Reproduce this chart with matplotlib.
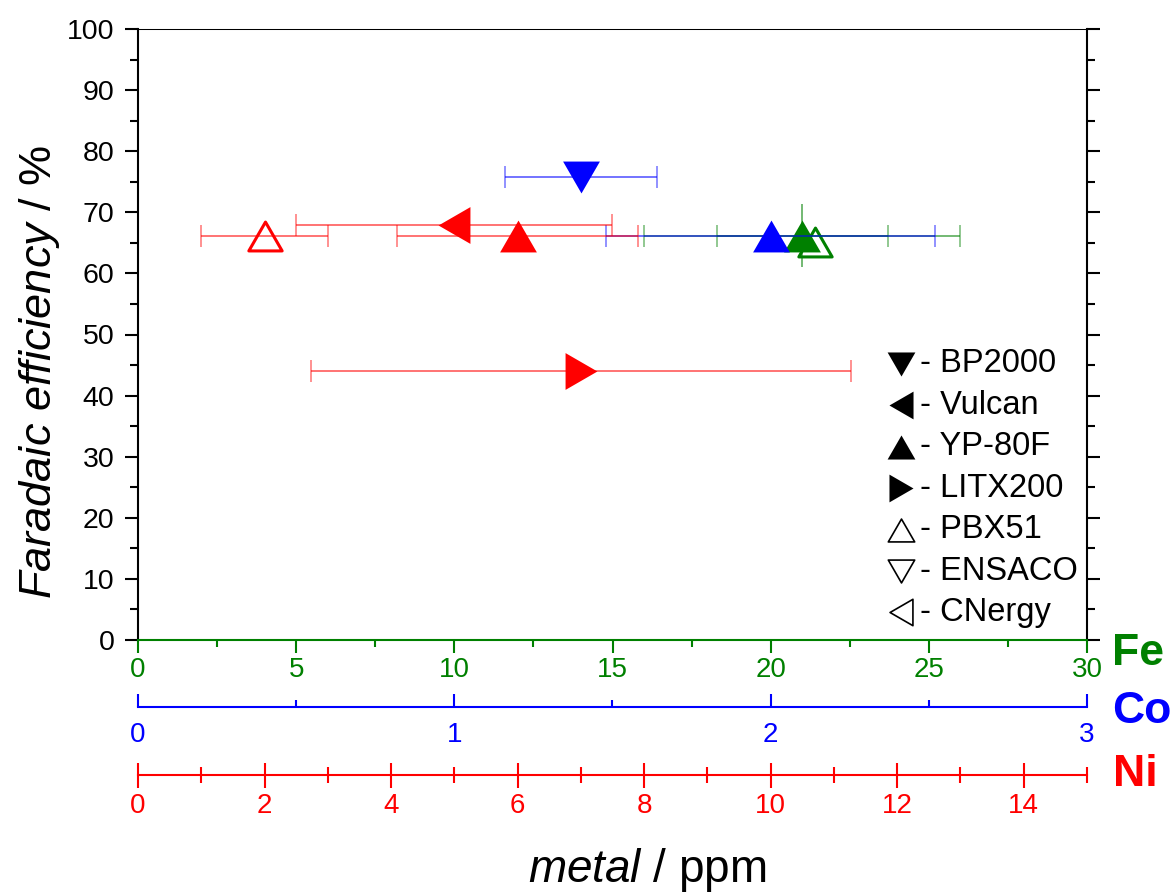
import numpy as np
import matplotlib
matplotlib.use('Agg')
import matplotlib.pyplot as plt
from matplotlib.path import Path
from matplotlib.ticker import MultipleLocator

plt.rcParams['font.family'] = 'Liberation Sans'
plt.rcParams['mathtext.fontset'] = 'custom'
plt.rcParams['mathtext.rm'] = 'Liberation Sans'
plt.rcParams['mathtext.it'] = 'Liberation Sans:italic'

GREEN = '#008000'
BLUE = '#0000ff'
RED = '#ff0000'

# carbon supports in legend order, with their marker shape
carbons = ['BP2000', 'Vulcan', 'YP-80F', 'LITX200', 'PBX51', 'ENSACO', 'CNergy']
shapes = ['down', 'left', 'up', 'right', 'up', 'down', 'left']
filled = [True, True, True, True, False, False, False]

# Fe content / ppm vs faradaic efficiency / %
fe_carbon = ['YP-80F', 'PBX51']
fe_ppm = [21.0, 21.4]
fe_fe = [66.2, 65.1]
fe_xerr = [5.0, 0.0]
fe_yerr = [5.1, 0.0]
# narrower Fe spread on the same point
fe2_ppm = [21.0]
fe2_fe = [66.2]
fe2_xerr = [2.7]

# Co content / ppm
co_carbon = ['BP2000', 'YP-80F']
co_ppm = [1.40, 2.00]
co_fe = [75.8, 66.2]
co_xerr = [0.24, 0.52]

# Ni content / ppm
ni_carbon = ['PBX51', 'Vulcan', 'YP-80F', 'LITX200']
ni_ppm = [2.0, 5.0, 6.0, 7.0]
ni_fe = [66.2, 67.9, 66.2, 44.0]
ni_xerr = [1.0, 2.5, 1.9, 4.27]


def triangle(direction):
    # equilateral triangle centred on its bounding box
    v = np.array([[0, 0.866], [-1, -0.866], [1, -0.866], [0, 0.866]])
    t = np.deg2rad({'up': 0, 'left': 90, 'down': 180, 'right': 270}[direction])
    rot = np.array([[np.cos(t), -np.sin(t)], [np.sin(t), np.cos(t)]])
    return Path(v @ rot.T, [Path.MOVETO, Path.LINETO, Path.LINETO, Path.CLOSEPOLY])


def draw_series(axis, color, carbon, x, y, xerr, yerr=None):
    if yerr is None:
        yerr = [0] * len(x)
    for xi, yi, xe, ye in zip(x, y, xerr, yerr):
        if xe > 0:
            axis.errorbar(xi, yi, xerr=xe, fmt='none', ecolor=color, alpha=0.55,
                          elinewidth=1.4, capsize=8, capthick=1.1)
        if ye > 0:
            axis.errorbar(xi, yi, yerr=ye, fmt='none', ecolor=color, alpha=0.55,
                          elinewidth=1.4, capsize=0)
    for c, xi, yi in zip(carbon, x, y):
        i = carbons.index(c)
        mk = triangle(shapes[i])
        if filled[i]:
            axis.plot(xi, yi, ls='none', marker=mk, ms=26.5, color=color, mew=0)
        else:
            axis.plot(xi, yi, ls='none', marker=mk, ms=24, mfc='none', mec=color, mew=2.2)


fig = plt.figure(figsize=(11.76, 8.94), dpi=100)
W, H = 1176, 894
ax = fig.add_axes([138 / W, 1 - 640 / H, 949 / W, 611 / H])

# Fe scale on the main axes
ax.set_xlim(0, 30)
ax.set_ylim(0, 100)
ax.xaxis.set_major_locator(MultipleLocator(5))
ax.xaxis.set_minor_locator(MultipleLocator(2.5))
ax.yaxis.set_major_locator(MultipleLocator(10))
ax.yaxis.set_minor_locator(MultipleLocator(5))
for s in ['left', 'right', 'bottom']:
    ax.spines[s].set_linewidth(1.5)
ax.spines['top'].set_linewidth(0.75)
ax.spines['bottom'].set_color(GREEN)
ax.tick_params(axis='x', which='both', colors=GREEN, direction='out', width=1.5,
               labelsize=20, pad=2.5)
ax.tick_params(axis='x', which='major', length=9.4)
ax.tick_params(axis='x', which='minor', length=5)
ax.tick_params(axis='y', which='both', left=True, right=True, direction='out',
               width=1.5, labelsize=20.5, pad=7.5)
ax.tick_params(axis='y', which='major', length=9.4)
ax.tick_params(axis='y', which='minor', length=5.5)

draw_series(ax, GREEN, fe_carbon, fe_ppm, fe_fe, fe_xerr, fe_yerr)
ax.errorbar(fe2_ppm, fe2_fe, xerr=fe2_xerr, fmt='none', ecolor=GREEN, alpha=0.55,
            elinewidth=1.4, capsize=8, capthick=1.1)

# Co and Ni scales stacked below
ax_co = ax.twiny()
ax_ni = ax.twiny()
for a, color, lim, major, minor, off in [(ax_co, BLUE, 3, 1, 0.5, 48.5),
                                         (ax_ni, RED, 15, 2, 1, 97.2)]:
    a.set_xlim(0, lim)
    a.xaxis.set_ticks_position('bottom')
    a.xaxis.set_label_position('bottom')
    a.xaxis.set_major_locator(MultipleLocator(major))
    a.xaxis.set_minor_locator(MultipleLocator(minor))
    for s in ['top', 'left', 'right']:
        a.spines[s].set_visible(False)
    a.spines['bottom'].set_visible(True)
    a.spines['bottom'].set_position(('outward', off))
    a.spines['bottom'].set_color(color)
    a.spines['bottom'].set_linewidth(1.5)

ax_co.tick_params(axis='x', which='both', colors=BLUE, direction='in', width=1.5,
                  labelsize=20, pad=10.5)
ax_co.tick_params(axis='x', which='major', length=9.4)
ax_co.tick_params(axis='x', which='minor', length=5)
ax_ni.tick_params(axis='x', which='both', colors=RED, direction='inout', width=1.5,
                  labelsize=20, pad=4)
ax_ni.tick_params(axis='x', which='major', length=18)
ax_ni.tick_params(axis='x', which='minor', length=11)

draw_series(ax_co, BLUE, co_carbon, co_ppm, co_fe, co_xerr)
draw_series(ax_ni, RED, ni_carbon, ni_ppm, ni_fe, ni_xerr)

# marker key
for i, name in enumerate(carbons):
    yc = (640 - (362 + i * 41.4)) / 611
    mk = triangle(shapes[i])
    if filled[i]:
        ax.plot(0.804, yc - 2 / 611, marker=mk, ms=20, color='black', mew=0,
                transform=ax.transAxes, clip_on=False)
    else:
        ax.plot(0.804, yc - 2 / 611, marker=mk, ms=19, mfc='none', mec='black', mew=1.2,
                transform=ax.transAxes, clip_on=False)
    ax.text(0.824, yc - 10.5 / 611, '- ' + name, transform=ax.transAxes,
            fontsize=23.5, va='baseline', ha='left')

ax.set_xlim(0, 30)
ax.set_ylim(0, 100)

# metal names beside each scale
fig.text(1112 / W, 1 - 665 / H, 'Fe', color=GREEN, fontsize=32, fontweight='bold', va='baseline')
fig.text(1112 / W, 1 - 723 / H, 'Co', color=BLUE, fontsize=32, fontweight='bold', va='baseline')
fig.text(1113 / W, 1 - 786.5 / H, 'Ni', color=RED, fontsize=32, fontweight='bold', va='baseline')

fig.text(647 / W, 1 - 882 / H, r'$\mathit{metal}$ / ppm', ha='center', va='baseline', fontsize=33)
fig.text(40 / W, 1 - 372 / H, r'$\mathit{Faradaic\ efficiency}$ / %', rotation=90,
         ha='center', va='center', fontsize=32.5)

fig.savefig('out.png', dpi=100)
